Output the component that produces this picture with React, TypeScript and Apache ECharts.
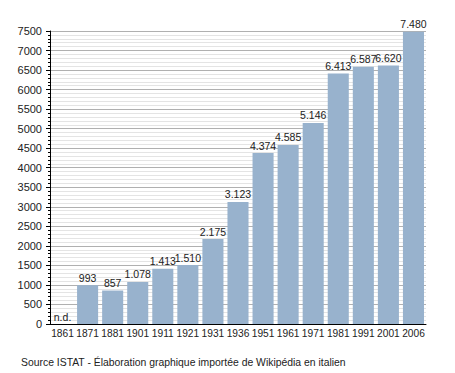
import React, { useEffect, useRef } from "react";
import * as echarts from "echarts";

const years = ["1861", "1871", "1881", "1901", "1911", "1921", "1931", "1936", "1951", "1961", "1971", "1981", "1991", "2001", "2006"];
const population = [0, 993, 857, 1078, 1413, 1510, 2175, 3123, 4374, 4585, 5146, 6413, 6587, 6620, 7480];
const missing = [true, false, false, false, false, false, false, false, false, false, false, false, false, false, false];
const sourceText = "Source ISTAT - Élaboration graphique importée de Wikipédia en italien";

const fmt = (v: number) => {
  const s = String(v);
  return s.length > 3 ? s.slice(0, s.length - 3) + "." + s.slice(s.length - 3) : s;
};

export default function App() {
  const ref = useRef<HTMLDivElement>(null);
  useEffect(() => {
    const chart = echarts.init(ref.current!, null, { renderer: "svg" });
    const font = "'Liberation Sans', Arial, sans-serif";
    chart.setOption({
      animation: false,
      backgroundColor: "#ffffff",
      textStyle: { fontFamily: font },
      grid: { left: 50, right: 29, top: 31, bottom: 49, containLabel: false },
      xAxis: {
        type: "category",
        data: years,
        axisLine: { show: true, lineStyle: { color: "#000", width: 1 } },
        axisTick: { show: false },
        axisLabel: { color: "#222", fontSize: 10.2, margin: 4, interval: 0, fontFamily: font },
      },
      yAxis: {
        type: "value",
        min: 0,
        max: 7500,
        interval: 500,
        axisLine: { show: true, lineStyle: { color: "#000", width: 1 } },
        axisTick: { show: true, length: 4, lineStyle: { color: "#000" } },
        minorTick: { show: true, splitNumber: 5, length: 2, lineStyle: { color: "#000" } },
        axisLabel: { color: "#222", fontSize: 11, margin: 8, fontFamily: font, formatter: (v: number) => String(v) },
        splitLine: { show: true, lineStyle: { color: "#b0b0b0", width: 1 } },
        minorSplitLine: { show: true, lineStyle: { color: "#e4e4e4", width: 1 } },
      },
      series: [
        {
          type: "bar",
          data: population,
          barCategoryGap: "16%",
          itemStyle: { color: "#98b2cd" },
          label: {
            show: true,
            position: "top",
            distance: 2,
            color: "#222",
            fontSize: 10.5,
            fontFamily: font,
            formatter: (p: any) => (missing[p.dataIndex] ? "n.d." : fmt(p.value)),
          },
        },
      ],
      graphic: [
        {
          type: "text",
          left: 21,
          top: 357,
          style: { text: sourceText, fill: "#222", font: `10.4px ${font}` },
        },
      ],
    });
    return () => chart.dispose();
  }, []);
  return <div ref={ref} style={{ width: 455, height: 373, position: "absolute", left: 0, top: 0 }} />;
}
